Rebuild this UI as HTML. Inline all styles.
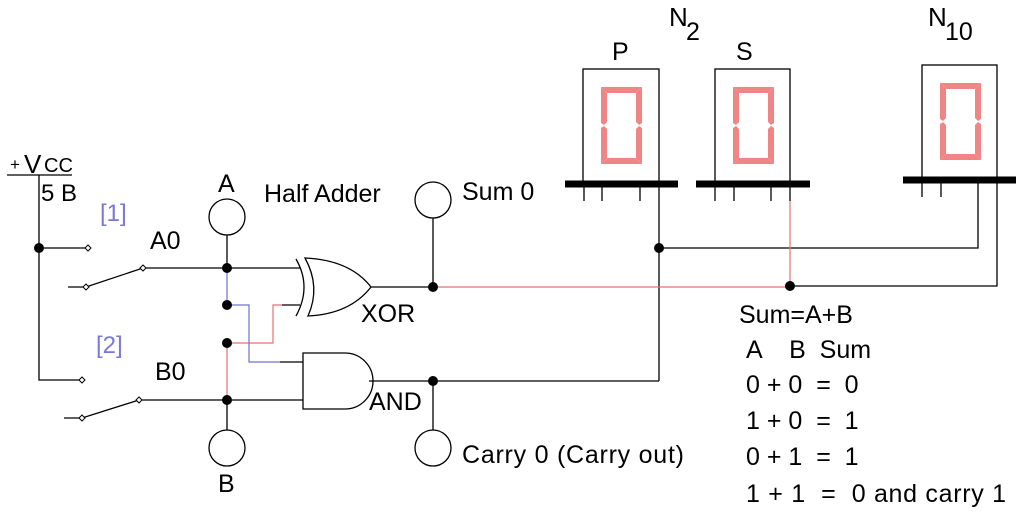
<!DOCTYPE html>
<html><head><meta charset="utf-8"><style>
html,body{margin:0;padding:0;background:#fff;}
svg{display:block;}
text{font-family:"Liberation Sans",Arial,sans-serif;fill:#000;}
text.blue{fill:#7a78d8;}
</style></head><body>
<svg width="1019" height="517" viewBox="0 0 1019 517" xmlns="http://www.w3.org/2000/svg">
<defs>
<g id="dig" fill="#f08585">
<polygon points="0,0 41,0 35,6 6,6"/>
<polygon points="0,77 41,77 35,71 6,71"/>
<polygon points="0,0 6,6 6,35 3,38 0,36"/>
<polygon points="41,0 35,6 35,35 38,38 41,36"/>
<polygon points="0,77 6,71 6,42 3,39 0,41"/>
<polygon points="41,77 35,71 35,42 38,39 41,41"/>
</g>
</defs>
<g stroke="#000" stroke-width="1.3" fill="none">
<rect x="583" y="69" width="76" height="115"/>
<rect x="715" y="69" width="75" height="115"/>
<rect x="922" y="65" width="75" height="115"/>
<path d="M584 184V201M602 184V201M640 184V201M734 184V201M715 184V201M771 184V201M790 184V201M922 180V197M941 180V197"/>
<path d="M659 184V381M659 248H978V180M790 286H997V180"/>
<path d="M7 175H72M39 175V380H80M39 248H86"/>
<path d="M68 287H86L143 268H300M64 418H82L139 400H303"/>
<path d="M227 235V268M227 400V430"/>
<path d="M282 305H300M280 362H303"/>
<path d="M296 259Q312 287 296 316"/>
<path d="M305 258Q321 287 308 316Q350 314 371 287Q350 260 305 258Z"/>
<path d="M303 353H345A28 28 0 0 1 345 409H303Z"/>
<path d="M371 287H433M369 381H659M433 218V287M433 381V430"/>
<circle cx="227" cy="217" r="18"/>
<circle cx="227" cy="448" r="18"/>
<circle cx="433" cy="200" r="18"/>
<circle cx="433" cy="448" r="18"/>
</g>
<g stroke="#000" stroke-width="7">
<path d="M565 184H678M696 184H810M903 180H1016"/>
</g>
<g fill="none" stroke-width="1.2">
<path d="M433 287H790M790 201V286M227 343V400M227 343H273V305H282" stroke="#e87070"/>
<path d="M227 268V305M227 305H249V362H280" stroke="#7070d0"/>
</g>
<g fill="#fff" stroke="#000" stroke-width="1">
<polygon points="88,245 91,248 88,251 85,248"/>
<polygon points="86,284 89,287 86,290 83,287"/>
<polygon points="143,265 146,268 143,271 140,268"/>
<polygon points="82,377 85,380 82,383 79,380"/>
<polygon points="82,415 85,418 82,421 79,418"/>
<polygon points="139,397 142,400 139,403 136,400"/>
</g>
<g fill="#000">
<circle cx="39" cy="248" r="5"/>
<circle cx="227" cy="268" r="5"/>
<circle cx="227" cy="305" r="5"/>
<circle cx="227" cy="343" r="5"/>
<circle cx="227" cy="400" r="5"/>
<circle cx="433" cy="287" r="5"/>
<circle cx="433" cy="381" r="5"/>
<circle cx="659" cy="248" r="5"/>
<circle cx="790" cy="286" r="5"/>
</g>
<use href="#dig" x="601" y="87"/>
<use href="#dig" x="733" y="87"/>
<use href="#dig" x="940" y="83"/>
<g font-size="25">
<text x="10" y="170" font-size="17">+</text><text x="24" y="173" font-size="26">V</text><text x="44" y="172" font-size="20">CC</text>
<text x="41" y="201" font-size="24">5 B</text>
<text x="100" y="221" class="blue" font-size="24">[1]</text>
<text x="96" y="353" class="blue" font-size="24">[2]</text>
<text x="150" y="249">A0</text>
<text x="155" y="380">B0</text>
<text x="218" y="192">A</text>
<text x="218" y="492">B</text>
<text x="264" y="202">Half Adder</text>
<text x="462" y="200">Sum 0</text>
<text x="361" y="322">XOR</text>
<text x="369" y="410">AND</text>
<text x="462" y="463" textLength="222">Carry 0 (Carry out)</text>
<text x="612" y="60">P</text>
<text x="736" y="60">S</text>
<text x="669" y="26" font-size="26">N</text><text x="686" y="40">2</text>
<text x="928" y="26" font-size="26">N</text><text x="945" y="40">10</text>
<text x="739" y="323">Sum=A+B</text>
<text x="746" y="358">A &#160;&#160; B &#160;Sum</text>
<text x="746" y="393">0 + 0 &#160;= &#160;0</text>
<text x="746" y="429">1 + 0 &#160;= &#160;1</text>
<text x="746" y="465">0 + 1 &#160;= &#160;1</text>
<text x="746" y="502" textLength="260">1 + 1 &#160;= &#160;0 and carry 1</text>
</g>
</svg>
</body></html>
